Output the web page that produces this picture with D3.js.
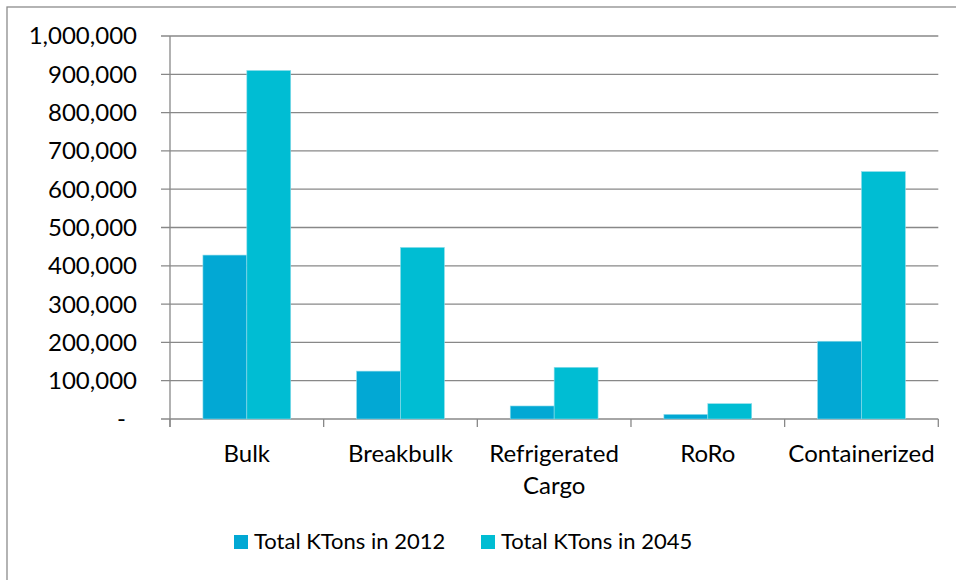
<!DOCTYPE html>
<html><head><meta charset="utf-8">
<script src="https://cdn.jsdelivr.net/npm/d3@7"></script>
<style>body{margin:0;background:#fff}svg{display:block}</style>
</head><body>
<svg id="c" width="956" height="580"></svg>
<script>
const categories = ["Bulk", "Breakbulk", "Refrigerated\nCargo", "RoRo", "Containerized"];
const seriesNames = ["Total KTons in 2012", "Total KTons in 2045"];
const values2012 = [428000, 125000, 34000, 12000, 203000];
const values2045 = [910000, 448000, 135000, 40000, 646000];
const yTicks = [0, 100000, 200000, 300000, 400000, 500000, 600000, 700000, 800000, 900000, 1000000];
const colors = ["#02a8d4", "#00bdd3"];

const svg = d3.select("#c");
const font = "Lato, 'Open Sans', sans-serif";
const fs = 24;
const L = 170, R = 938.3, T = 36, B = 419;
const gridColor = "#888888";

// outer frame (only top & left visible)
svg.append("rect").attr("x", 7).attr("y", 7).attr("width", 1000).attr("height", 1000)
  .attr("fill", "none").attr("stroke", "#8c8c8c").attr("stroke-width", 1.3);

const x0 = d3.scaleBand().domain(categories).range([L, R]).paddingInner(0).paddingOuter(0);
const y = d3.scaleLinear().domain([0, 1000000]).range([B, T]);
const barW = x0.bandwidth() / 3.5;
const x1 = d3.scaleBand().domain(seriesNames).range([0, barW * 2]);

// grid lines + y ticks
svg.append("g").selectAll("line").data(yTicks).join("line")
  .attr("x1", L - 9).attr("x2", R).attr("y1", d => y(d)).attr("y2", d => y(d))
  .attr("stroke", gridColor).attr("stroke-width", 1.3);

// y axis line
svg.append("line").attr("x1", L).attr("x2", L).attr("y1", T).attr("y2", B + 8)
  .attr("stroke", gridColor).attr("stroke-width", 1.3);

// x category ticks
const bounds = categories.map(c => x0(c)).concat([R]);
svg.append("g").selectAll("line").data(bounds).join("line")
  .attr("x1", d => d).attr("x2", d => d).attr("y1", B).attr("y2", B + 8)
  .attr("stroke", gridColor).attr("stroke-width", 1.3);

// y labels
const fmt = d => d === 0 ? "-" : d3.format(",")(d);
svg.append("g").selectAll("text").data(yTicks).join("text")
  .attr("x", d => d === 0 ? 126 : 137).attr("y", d => y(d)).attr("dy", "0.35em")
  .attr("text-anchor", "end").attr("font-family", font).attr("font-size", fs).attr("fill", "#000")
  .text(fmt);

// bars
const data = categories.map((c, i) => ({c, vals: [values2012[i], values2045[i]]}));
const groups = svg.append("g").selectAll("g").data(data).join("g")
  .attr("transform", d => `translate(${x0(d.c) + (x0.bandwidth() - barW * 2) / 2},0)`);
groups.selectAll("rect").data(d => d.vals.map((v, j) => ({v, s: seriesNames[j], j})))
  .join("rect")
  .attr("x", d => x1(d.s)).attr("width", x1.bandwidth())
  .attr("y", d => y(d.v)).attr("height", d => B - y(d.v))
  .attr("fill", d => colors[d.j]).attr("stroke", "#8fdcea").attr("stroke-width", 0.6);

// category labels
const cl = svg.append("g").selectAll("text").data(categories).join("text")
  .attr("x", d => x0(d) + x0.bandwidth() / 2).attr("y", 462)
  .attr("text-anchor", "middle").attr("font-family", font).attr("font-size", fs).attr("fill", "#000");
cl.selectAll("tspan").data(d => d.split("\n")).join("tspan")
  .attr("x", function() { return d3.select(this.parentNode).attr("x"); })
  .attr("dy", (d, i) => i === 0 ? 0 : 32).text(d => d);

// legend
const legX = [234, 481];
const lg = svg.append("g").selectAll("g").data(seriesNames).join("g")
  .attr("transform", (d, i) => `translate(${legX[i]},0)`);
lg.append("rect").attr("x", 0).attr("y", 535).attr("width", 14).attr("height", 14)
  .attr("fill", (d, i) => colors[i]);
lg.append("text").attr("x", 20).attr("y", 549).attr("font-family", font).attr("font-size", 22)
  .attr("fill", "#000").text(d => d);
</script>
</body></html>
